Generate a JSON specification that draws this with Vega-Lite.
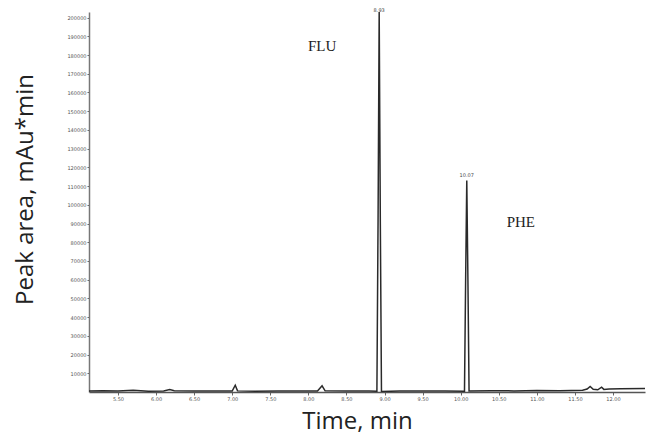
{
  "$schema": "https://vega.github.io/schema/vega-lite/v6.json",
  "width": 556,
  "height": 380,
  "autosize": {"type": "none"},
  "padding": {"left": 89, "top": 12, "right": 4, "bottom": 42},
  "background": "white",
  "config": {"view": {"stroke": null}, "axis": {"labelOverlap": false, "labelBound": false, "labelFlush": false}},
  "datasets": {
    "trace": [
      {"t": 5.12, "v": 600}, {"t": 5.3, "v": 700}, {"t": 5.5, "v": 500}, {"t": 5.7, "v": 900},
      {"t": 5.9, "v": 400}, {"t": 6.1, "v": 600}, {"t": 6.18, "v": 1300}, {"t": 6.24, "v": 700},
      {"t": 6.5, "v": 500}, {"t": 6.8, "v": 600}, {"t": 7.0, "v": 500}, {"t": 7.04, "v": 3600},
      {"t": 7.07, "v": 600}, {"t": 7.3, "v": 400}, {"t": 7.6, "v": 500}, {"t": 7.9, "v": 600},
      {"t": 8.12, "v": 500}, {"t": 8.18, "v": 3300}, {"t": 8.22, "v": 600}, {"t": 8.5, "v": 500},
      {"t": 8.8, "v": 600}, {"t": 8.9, "v": 400}, {"t": 8.915, "v": 90000}, {"t": 8.93, "v": 203000},
      {"t": 8.945, "v": 90000}, {"t": 8.96, "v": 300}, {"t": 9.2, "v": 500}, {"t": 9.5, "v": 600},
      {"t": 9.8, "v": 500}, {"t": 10.05, "v": 400}, {"t": 10.065, "v": 60000}, {"t": 10.08, "v": 113000},
      {"t": 10.095, "v": 60000}, {"t": 10.11, "v": 500}, {"t": 10.4, "v": 700}, {"t": 10.7, "v": 600},
      {"t": 11.0, "v": 800}, {"t": 11.3, "v": 700}, {"t": 11.6, "v": 900}, {"t": 11.66, "v": 1600},
      {"t": 11.7, "v": 3000}, {"t": 11.74, "v": 1500}, {"t": 11.8, "v": 1200}, {"t": 11.85, "v": 2600},
      {"t": 11.88, "v": 1400}, {"t": 11.95, "v": 1600}, {"t": 12.1, "v": 1800}, {"t": 12.42, "v": 1900}
    ],
    "names": [
      {"t": 8.18, "v": 185000, "label": "FLU"},
      {"t": 10.79, "v": 90900, "label": "PHE"}
    ],
    "rt": [
      {"t": 8.93, "v": 202500, "label": "8.93"},
      {"t": 10.08, "v": 114500, "label": "10.07"}
    ]
  },
  "layer": [
    {
      "data": {"name": "trace"},
      "mark": {"type": "line", "color": "#2a2a2a", "strokeWidth": 1.5, "clip": true},
      "encoding": {
        "x": {
          "field": "t", "type": "quantitative",
          "scale": {"domain": [5.12, 12.42], "nice": false, "zero": false},
          "axis": {
            "title": "Time, min",
            "titleFont": "Open Sans", "titleFontSize": 24, "titleFontWeight": "normal",
            "titleColor": "#222", "titleX": 268, "titleY": 36, "titleBaseline": "alphabetic",
            "titleAnchor": null, "titleAlign": "center",
            "values": [5.5, 6, 6.5, 7, 7.5, 8, 8.5, 9, 9.5, 10, 10.5, 11, 11.5, 12],
            "format": ".2f", "labelFontSize": 5, "labelColor": "#555", "labelFont": "DejaVu Sans",
            "labelOverlap": false,
            "labelPadding": 1, "tickSize": 3, "tickColor": "#666",
            "domainColor": "#555", "domainWidth": 1.5, "grid": false
          }
        },
        "y": {
          "field": "v", "type": "quantitative",
          "scale": {"domain": [0, 203000], "nice": false},
          "axis": {
            "title": "Peak area, mAu*min",
            "titleFont": "Open Sans", "titleFontSize": 24, "titleFontWeight": "normal",
            "titleColor": "#222", "titleX": -57, "titleY": 177, "titleBaseline": "alphabetic",
            "titleAnchor": null, "titleAlign": "center",
            "values": [10000, 20000, 30000, 40000, 50000, 60000, 70000, 80000, 90000, 100000, 110000, 120000, 130000, 140000, 150000, 160000, 170000, 180000, 190000, 200000],
            "tickCount": 20,
            "format": "d", "labelFontSize": 5, "labelColor": "#555", "labelFont": "DejaVu Sans",
            "labelOverlap": false, "labelSeparation": 0,
            "labelPadding": 1, "tickSize": 2, "tickColor": "#666",
            "domainColor": "#777", "domainWidth": 1.5, "grid": false
          }
        }
      }
    },
    {
      "data": {"name": "names"},
      "mark": {"type": "text", "font": "Liberation Serif", "fontSize": 15, "color": "#222", "baseline": "middle", "align": "center"},
      "encoding": {
        "x": {"field": "t", "type": "quantitative"},
        "y": {"field": "v", "type": "quantitative", "axis": {"labelOverlap": false}},
        "text": {"field": "label"}
      }
    },
    {
      "data": {"name": "rt"},
      "mark": {"type": "text", "font": "DejaVu Sans", "fontSize": 5, "color": "#444", "baseline": "bottom", "align": "center"},
      "encoding": {
        "x": {"field": "t", "type": "quantitative"},
        "y": {"field": "v", "type": "quantitative", "axis": {"labelOverlap": false}},
        "text": {"field": "label"}
      }
    }
  ]
}
